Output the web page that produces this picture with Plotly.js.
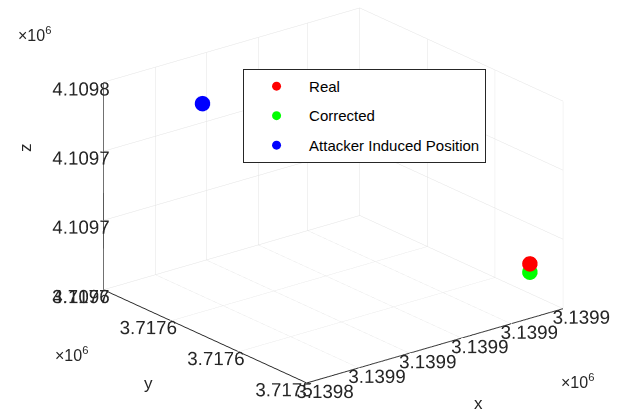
<!DOCTYPE html>
<html><head><meta charset="utf-8">
<script src="https://cdn.plot.ly/plotly-3.0.1.min.js"></script>
<style>html,body{margin:0;padding:0;background:#fff}#c{width:643px;height:415px}</style>
</head><body><div id="c"></div>
<script>
const seriesNames = ['Real', 'Corrected', 'Attacker Induced Position'];
const seriesColors = ['#ff0000', '#00ff00', '#0000ff'];
const xVals = [3139888, 3139888, 3139855];
const yVals = [3717517, 3717517, 3717635];
const zVals = [4109627, 4109621, 4109725];

const xTickVals = [3139840, 3139850, 3139860, 3139870, 3139880, 3139890];
const xTickText = ['3.1398', '3.1399', '3.1399', '3.1399', '3.1399', '3.1399'];
const yTickVals = [3717500, 3717550, 3717600, 3717650];
const yTickText = ['3.7175', '3.7176', '3.7176', '3.7177'];
const zTickVals = [4109600, 4109650, 4109700, 4109750];
const zTickText = ['4.1096', '4.1097', '4.1097', '4.1098'];

const traces = seriesNames.map((n, i) => ({
  type: 'scatter3d', mode: 'markers', name: n, legendgroup: 'g' + i,
  x: [xVals[i]], y: [yVals[i]], z: [zVals[i]],
  marker: {color: seriesColors[i], size: 9},
  hoverinfo: 'skip'
}));

const fontFam = 'Liberation Sans, Arial, sans-serif';
const textCol = '#262626';
const tickFont = {family: fontFam, size: 15, color: textCol};
function ax(range, tv, tt) {
  return {
    range: range, tickmode: 'array', tickvals: tv, ticktext: tt, autorange: false,
    title: {text: ''}, tickangle: 0,
    showgrid: true, gridcolor: '#e3e3e3', gridwidth: 1,
    showline: true, linecolor: textCol, linewidth: 2,
    zeroline: false, showbackground: false,
    ticks: 'outside', ticklen: 12, tickcolor: 'rgba(255,255,255,0)',
    tickfont: tickFont, showspikes: false
  };
}
const s = 1.571;
function note(x, y, text, size, angle) {
  return {xref: 'paper', yref: 'paper', x: x / 643, y: 1 - y / 415, text: text,
    showarrow: false, xanchor: 'center', yanchor: 'middle', textangle: angle || 0,
    font: {family: fontFam, size: size, color: textCol}};
}
const layout = {
  width: 643, height: 415,
  margin: {l: 0, r: 0, t: 0, b: 0},
  paper_bgcolor: '#ffffff',
  showlegend: true,
  legend: {
    x: 0.378, y: 0.834, xanchor: 'left', yanchor: 'top',
    bgcolor: '#ffffff', bordercolor: textCol, borderwidth: 1,
    font: {family: fontFam, size: 15, color: '#000'},
    itemwidth: 55, tracegroupgap: 7
  },
  scene: {
    domain: {x: [0.036, 1.0], y: [0.0, 1.0]},
    bgcolor: '#ffffff',
    aspectmode: 'manual',
    aspectratio: {x: s, y: s, z: 1.073},
    camera: {
      eye: {x: -0.586 * 2, y: -0.737 * 2, z: 0.337 * 2},
      up: {x: 0, y: 0, z: 1},
      center: {x: 0, y: 0, z: -0.063},
      projection: {type: 'orthographic'}
    },
    xaxis: ax([3139840, 3139890], xTickVals, xTickText),
    yaxis: ax([3717500, 3717650], yTickVals, yTickText),
    zaxis: ax([4109600, 4109750], zTickVals, zTickText)
  },
  annotations: [
    note(34, 34, '×10<sup>6</sup>', 16),
    note(71, 354, '×10<sup>6</sup>', 16),
    note(577, 381, '×10<sup>6</sup>', 16),
    note(478, 403, 'x', 17),
    note(148, 383, 'y', 17),
    note(25, 148, 'z', 17, -90)
  ]
};
Plotly.newPlot('c', traces, layout, {displayModeBar: false});
</script></body></html>
